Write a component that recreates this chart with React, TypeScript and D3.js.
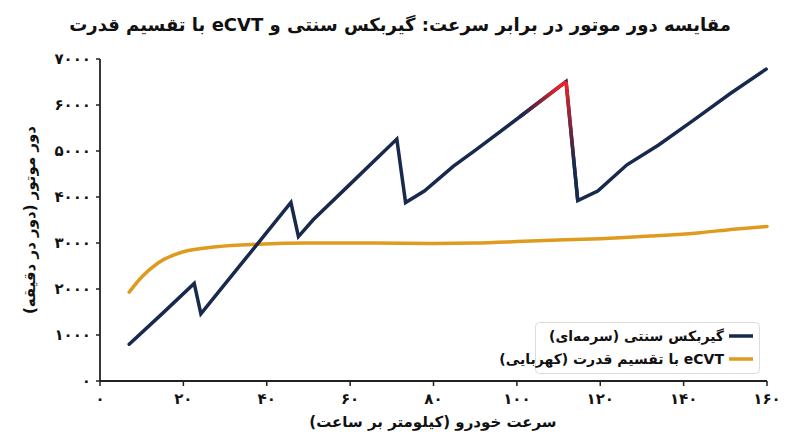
import React from "react";
import * as d3 from "d3";

const gearSpeed = [7, 15, 22.6, 24.2, 30, 35, 40, 45.8, 47.6, 51.2, 60, 71.2, 73.3, 77.8, 84.8, 90.4, 100.8, 111.8, 114.6, 119.4, 126.4, 134, 142.4, 151.2, 159.8];
const gearRpm = [800, 1470, 2120, 1460, 2110, 2670, 3230, 3880, 3140, 3510, 4280, 5260, 3880, 4130, 4670, 5040, 5750, 6510, 3920, 4130, 4700, 5130, 5670, 6250, 6780];

const ecvtSpeed = [7, 10, 14, 20, 28, 38, 50, 65, 80, 90, 100, 110, 120, 132, 144, 152, 160];
const ecvtRpm = [1930, 2260, 2570, 2810, 2920, 2975, 3000, 3000, 2990, 3000, 3030, 3065, 3095, 3150, 3224, 3300, 3360];

const xTicks = [0, 20, 40, 60, 80, 100, 120, 140, 160];
const yTicks = [0, 1000, 2000, 3000, 4000, 5000, 6000, 7000];

const title = "مقایسه دور موتور در برابر سرعت: گیربکس سنتی و eCVT با تقسیم قدرت";
const xLabel = "سرعت خودرو (کیلومتر بر ساعت)";
const yLabel = "دور موتور (دور در دقیقه)";
const legendGear = "گیربکس سنتی (سرمه‌ای)";
const legendEcvt = "eCVT با تقسیم قدرت (کهربایی)";

const NAVY = "#17294d";
const ORANGE = "#df9b1e";
const RED = "#ee2027";
const FONT = "'DejaVu Sans', sans-serif";

const fa = (n: number) => String(n).replace(/[0-9]/g, (d) => "۰۱۲۳۴۵۶۷۸۹"[+d]);

export default function App() {
  const W = 800, H = 447;
  const x = d3.scaleLinear().domain([0, 160]).range([100, 767]);
  const y = d3.scaleLinear().domain([0, 7000]).range([381, 59]);

  const gearPts: [number, number][] = gearSpeed.map((s, i) => [s, gearRpm[i]]);
  const ecvtPts: [number, number][] = ecvtSpeed.map((s, i) => [s, ecvtRpm[i]]);

  const lineLin = d3.line<[number, number]>().x((d) => x(d[0])).y((d) => y(d[1]));
  const lineSmooth = d3.line<[number, number]>().x((d) => x(d[0])).y((d) => y(d[1])).curve(d3.curveMonotoneX);

  const peakIdx = gearRpm.indexOf(d3.max(gearRpm.slice(0, 20)) as number);
  const riseSeg = gearPts.slice(peakIdx - 1, peakIdx + 1);
  const dropSeg = gearPts.slice(peakIdx, peakIdx + 2);

  return (
    <svg width={W} height={H} style={{ position: "absolute", left: 0, top: 0, background: "#fff" }} fontFamily={FONT}>
      <defs>
        <linearGradient id="riseGrad" gradientUnits="userSpaceOnUse" x1={x(101)} y1={0} x2={x(110)} y2={0}>
          <stop offset="0" stopColor={NAVY} />
          <stop offset="1" stopColor={RED} />
        </linearGradient>
        <linearGradient id="dropGrad" gradientUnits="userSpaceOnUse" x1={0} y1={y(6450)} x2={0} y2={y(4700)}>
          <stop offset="0" stopColor={RED} />
          <stop offset="1" stopColor={NAVY} />
        </linearGradient>
      </defs>

      <text x={400} y={31} textAnchor="middle" direction="rtl" fontSize={18} fontWeight="bold" fill="#111">{title}</text>

      {/* axes */}
      <line x1={x(0)} x2={x(0)} y1={y(7000)} y2={y(0)} stroke="#222" strokeWidth={1.8} />
      <line x1={x(0)} x2={x(160)} y1={y(0)} y2={y(0)} stroke="#222" strokeWidth={1.8} />
      {yTicks.map((t) => (
        <g key={"y" + t}>
          <line x1={x(0) - 4} x2={x(0)} y1={y(t)} y2={y(t)} stroke="#222" strokeWidth={1.5} />
          <text x={x(0) - 9} y={y(t)} dy="0.36em" textAnchor="end" fontSize={15} fontWeight="bold" fill="#111">{fa(t)}</text>
        </g>
      ))}
      {xTicks.map((t) => (
        <g key={"x" + t}>
          <line x1={x(t)} x2={x(t)} y1={y(0)} y2={y(0) + 5} stroke="#222" strokeWidth={1.5} />
          <text x={x(t)} y={404} textAnchor="middle" fontSize={15} fontWeight="bold" fill="#111">{fa(t)}</text>
        </g>
      ))}
      <text x={433} y={427} textAnchor="middle" direction="rtl" fontSize={15} fontWeight="bold" fill="#111">{xLabel}</text>
      <text transform={`translate(35,220) rotate(-90)`} textAnchor="middle" direction="rtl" fontSize={15} fontWeight="bold" fill="#111">{yLabel}</text>

      {/* series */}
      <path d={lineSmooth(ecvtPts) || ""} fill="none" stroke={ORANGE} strokeWidth={3.5} strokeLinecap="round" strokeLinejoin="round" />
      <path d={lineLin(gearPts) || ""} fill="none" stroke={NAVY} strokeWidth={3.5} strokeLinecap="round" strokeLinejoin="miter" />
      <path d={lineLin(riseSeg) || ""} fill="none" stroke="url(#riseGrad)" strokeWidth={3.5} strokeLinecap="butt" />
      <path d={lineLin(dropSeg) || ""} fill="none" stroke="url(#dropGrad)" strokeWidth={3.5} strokeLinecap="butt" />

      {/* legend */}
      <rect x={535.5} y={322.5} width={224} height={51} rx={4} fill="#fff" fillOpacity={0.9} stroke="#dcdcdc" strokeWidth={1} />
      <line x1={729} x2={753} y1={336} y2={336} stroke={NAVY} strokeWidth={3.5} />
      <line x1={729} x2={753} y1={359} y2={359} stroke={ORANGE} strokeWidth={3.5} />
      <text x={724} y={336} dy="0.35em" textAnchor="start" direction="rtl" fontSize={14} fontWeight="bold" fill="#111">{legendGear}</text>
      <text x={724} y={359} dy="0.35em" textAnchor="start" direction="rtl" fontSize={14} fontWeight="bold" fill="#111">{legendEcvt}</text>
    </svg>
  );
}
